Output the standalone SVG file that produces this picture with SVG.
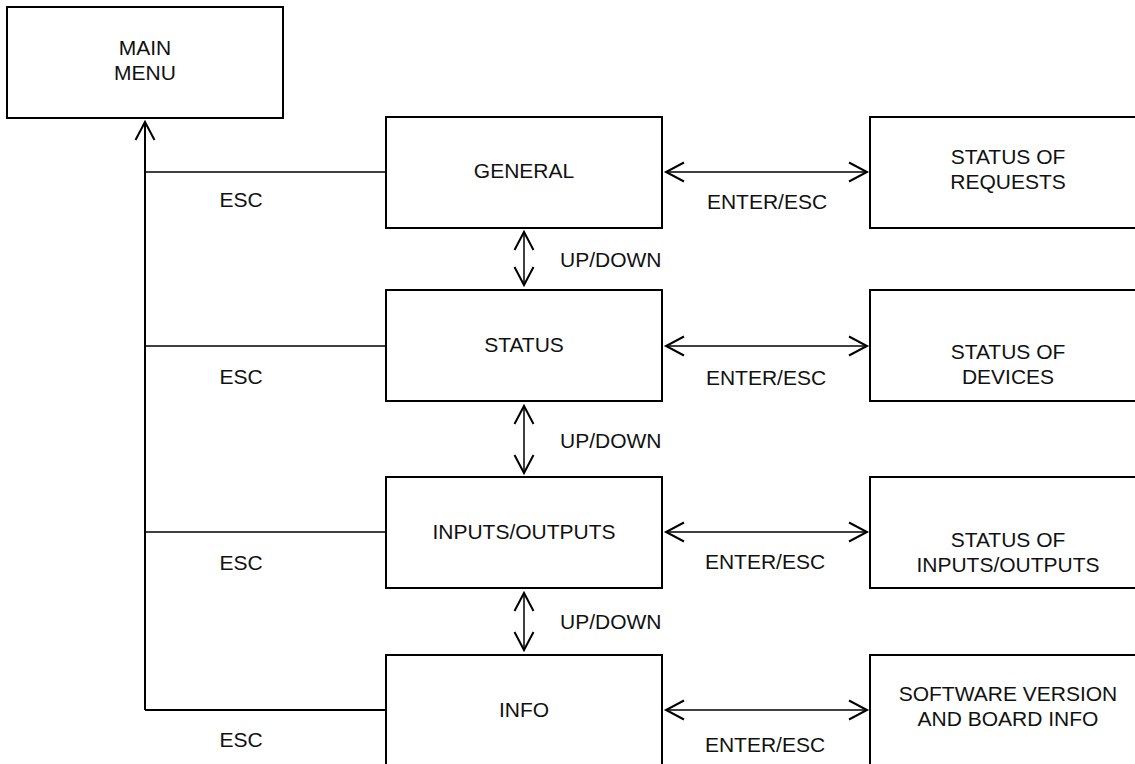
<svg xmlns="http://www.w3.org/2000/svg" width="1135" height="764" viewBox="0 0 1135 764">
  <style>
    .box { fill: #fff; stroke: #000; stroke-width: 2; }
    .lbl { font-family: "Liberation Sans", Arial, sans-serif; font-size: 21px; fill: #111; text-anchor: middle; }
    .lbl.start { text-anchor: start; }
    .wire { fill: none; stroke: #000; stroke-width: 1.5; }
    .trunk { fill: none; stroke: #000; stroke-width: 2; }
  </style>
  <defs>
    <marker id="open" markerUnits="userSpaceOnUse" markerWidth="24" markerHeight="24" viewBox="-20 -12 24 24" refX="0" refY="0" orient="auto-start-reverse">
      <path d="M -18 -9.5 L 0 0 L -18 9.5" fill="none" stroke="#000" stroke-width="2"/>
    </marker>
  </defs>
  <rect width="1135" height="764" fill="#fff"/>

  <!-- connectors -->
  <g id="connectors">
    <!-- ESC trunk back to main menu -->
    <path class="trunk" d="M 145 710 L 145 122" marker-end="url(#open)"/>
    <path class="wire" d="M 145 172 L 386 172"/>
    <path class="wire" d="M 145 346 L 386 346"/>
    <path class="wire" d="M 145 532 L 386 532"/>
    <path class="trunk" d="M 145 710 L 386 710"/>
    <text class="lbl" x="241" y="207">ESC</text>
    <text class="lbl" x="241" y="384">ESC</text>
    <text class="lbl" x="241" y="570">ESC</text>
    <text class="lbl" x="241" y="747">ESC</text>

    <!-- ENTER/ESC links -->
    <path class="wire" d="M 666 172 L 867 172" marker-start="url(#open)" marker-end="url(#open)"/>
    <path class="wire" d="M 666 346 L 867 346" marker-start="url(#open)" marker-end="url(#open)"/>
    <path class="wire" d="M 666 532 L 867 532" marker-start="url(#open)" marker-end="url(#open)"/>
    <path class="wire" d="M 666 710 L 867 710" marker-start="url(#open)" marker-end="url(#open)"/>
    <text class="lbl" x="767" y="209">ENTER/ESC</text>
    <text class="lbl" x="766" y="385">ENTER/ESC</text>
    <text class="lbl" x="765" y="569">ENTER/ESC</text>
    <text class="lbl" x="765" y="752">ENTER/ESC</text>

    <!-- UP/DOWN links -->
    <path class="wire" d="M 524 232 L 524 285" marker-start="url(#open)" marker-end="url(#open)"/>
    <path class="wire" d="M 524 406 L 524 473" marker-start="url(#open)" marker-end="url(#open)"/>
    <path class="wire" d="M 524 593 L 524 650" marker-start="url(#open)" marker-end="url(#open)"/>
    <text class="lbl start" x="560" y="267">UP/DOWN</text>
    <text class="lbl start" x="560" y="448">UP/DOWN</text>
    <text class="lbl start" x="560" y="629">UP/DOWN</text>
  </g>

  <g id="main-menu">
    <rect class="box" x="7" y="7" width="276" height="111"/>
    <text class="lbl" x="145" y="55">MAIN</text>
    <text class="lbl" x="145" y="80">MENU</text>
  </g>

  <g id="general">
    <rect class="box" x="386" y="117" width="276" height="111"/>
    <text class="lbl" x="524" y="178">GENERAL</text>
  </g>
  <g id="status">
    <rect class="box" x="386" y="290" width="276" height="111"/>
    <text class="lbl" x="524" y="352">STATUS</text>
  </g>
  <g id="inputs-outputs">
    <rect class="box" x="386" y="477" width="276" height="111"/>
    <text class="lbl" x="524" y="539">INPUTS/OUTPUTS</text>
  </g>
  <g id="info">
    <rect class="box" x="386" y="655" width="276" height="111"/>
    <text class="lbl" x="524" y="717">INFO</text>
  </g>

  <g id="status-of-requests">
    <rect class="box" x="870" y="117" width="276" height="111"/>
    <text class="lbl" x="1008" y="164">STATUS OF</text>
    <text class="lbl" x="1008" y="189">REQUESTS</text>
  </g>
  <g id="status-of-devices">
    <rect class="box" x="870" y="290" width="276" height="111"/>
    <text class="lbl" x="1008" y="359">STATUS OF</text>
    <text class="lbl" x="1008" y="384">DEVICES</text>
  </g>
  <g id="status-of-io">
    <rect class="box" x="870" y="477" width="276" height="111"/>
    <text class="lbl" x="1008" y="547">STATUS OF</text>
    <text class="lbl" x="1008" y="572">INPUTS/OUTPUTS</text>
  </g>
  <g id="software-info">
    <rect class="box" x="870" y="655" width="276" height="111"/>
    <text class="lbl" x="1008" y="701">SOFTWARE VERSION</text>
    <text class="lbl" x="1008" y="726">AND BOARD INFO</text>
  </g>
</svg>
